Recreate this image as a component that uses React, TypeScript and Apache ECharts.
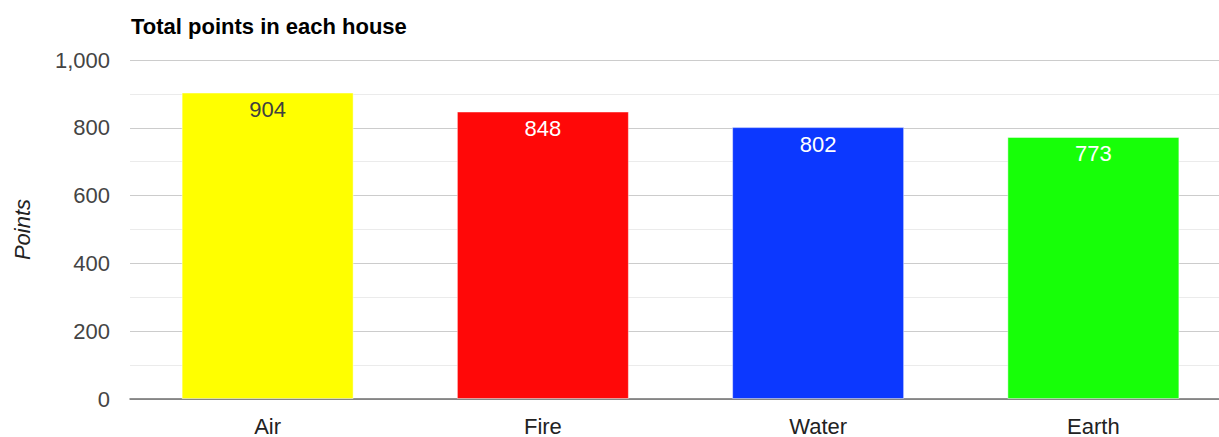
import React, { useEffect, useRef } from "react";
import * as echarts from "echarts";

const houses: string[] = ["Air", "Fire", "Water", "Earth"];
const points: number[] = [904, 848, 802, 773];
const barColors: string[] = ["#ffff00", "#ff0808", "#0c38ff", "#17ff08"];
const labelColors: string[] = ["#404040", "#ffffff", "#ffffff", "#ffffff"];

export default function App() {
  const ref = useRef<HTMLDivElement>(null);
  useEffect(() => {
    if (!ref.current) return;
    const chart = echarts.init(ref.current, undefined, { renderer: "svg" });
    chart.setOption({
      animation: false,
      textStyle: { fontFamily: "'Liberation Sans', Arial, sans-serif" },
      title: {
        text: "Total points in each house",
        left: 126,
        top: 10,
        textStyle: { fontSize: 22, fontWeight: "bold", color: "#000000" },
      },
      grid: { left: 130, right: 0, top: 60, bottom: 34, containLabel: false },
      xAxis: {
        type: "category",
        data: houses,
        axisLine: { show: true, lineStyle: { color: "#6e6e6e", width: 1.5 } },
        axisTick: { show: false },
        axisLabel: { fontSize: 22, color: "#222222", margin: 16 },
      },
      yAxis: {
        type: "value",
        min: 0,
        max: 1000,
        interval: 200,
        name: "Points",
        nameLocation: "middle",
        nameGap: 97,
        nameTextStyle: { fontSize: 22, fontStyle: "italic", color: "#222222" },
        axisLabel: {
          fontSize: 22,
          color: "#444444",
          margin: 20,
          formatter: (v: number) => v.toLocaleString("en-US"),
        },
        axisLine: { show: false },
        axisTick: { show: false },
        splitLine: { show: true, lineStyle: { color: "#cccccc", width: 1 } },
        minorTick: { show: false, splitNumber: 2 },
        minorSplitLine: { show: true, lineStyle: { color: "#ebebeb", width: 1 } },
      },
      series: [
        {
          type: "bar",
          barWidth: 172,
          data: points.map((v, i) => ({
            value: v,
            itemStyle: {
              color: barColors[i],
              borderColor: "rgba(255,255,255,0.45)",
              borderWidth: 1,
            },
            label: { color: labelColors[i] },
          })),
          label: {
            show: true,
            position: "insideTop",
            distance: 6,
            fontSize: 22,
          },
        },
      ],
    });
    return () => chart.dispose();
  }, []);
  return (
    <div
      style={{
        position: "absolute",
        left: 0,
        top: 0,
        width: 1219,
        height: 437,
        overflow: "hidden",
      }}
    >
      <div ref={ref} style={{ width: 1231, height: 437 }} />
    </div>
  );
}
